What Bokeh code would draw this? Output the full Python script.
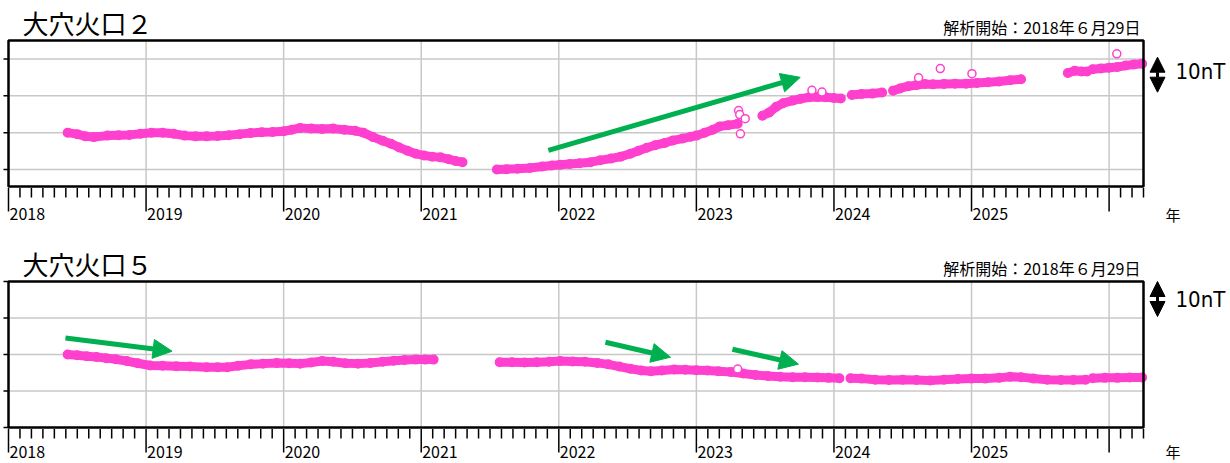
from bokeh.plotting import figure
from bokeh.layouts import column
from bokeh.models import Arrow, NormalHead, Range1d
from bokeh.embed import file_html
from bokeh.resources import INLINE
from bokeh.core.properties import value

NaN = float("nan")

# ---------------- data: 大穴火口２ (nT, relative) ----------------
c2_year = [2018.43, 2018.50, 2018.56, 2018.62, 2018.72, 2018.80, 2018.88, 2018.96, 2019.04, 2019.12,
           2019.20, 2019.28, 2019.36, 2019.44, 2019.52, 2019.60, 2019.68, 2019.76, 2019.84, 2019.92,
           2020.00, 2020.06, 2020.12, 2020.20, 2020.28, 2020.36, 2020.44, 2020.52, 2020.58, 2020.65,
           2020.72, 2020.78, 2020.84, 2020.90, 2020.96, 2021.02, 2021.08, 2021.14, 2021.20, 2021.25,
           2021.30, NaN,
           2021.55, 2021.62, 2021.70, 2021.79, 2021.88, 2021.95, 2022.01, 2022.08, 2022.15, 2022.23,
           2022.30, 2022.38, 2022.45, 2022.52, 2022.58, 2022.64, 2022.70, 2022.77, 2022.83, 2022.90,
           2022.96, 2023.00, 2023.06, 2023.12, 2023.17, 2023.23, 2023.30, NaN,
           2023.48, 2023.53, 2023.58, 2023.63, 2023.70, 2023.76, 2023.82, 2023.88, 2023.94, 2024.00,
           2024.05, NaN,
           2024.13, 2024.20, 2024.28, 2024.35, NaN,
           2024.43, 2024.48, 2024.54, 2024.60, 2024.66, 2024.72, 2024.80, 2024.88, 2024.96, 2025.04,
           2025.12, 2025.20, 2025.28, 2025.36, NaN,
           2025.70, 2025.75, 2025.80, 2025.84, NaN,
           2025.88, 2025.94, 2026.00, 2026.06, 2026.12, 2026.18, 2026.24]
c2_nT = [10.0, 9.6, 9.0, 8.8, 9.2, 9.3, 9.4, 9.7, 10.0, 10.0,
         9.7, 9.2, 9.0, 9.0, 9.1, 9.3, 9.6, 9.9, 10.1, 10.2,
         10.4, 10.8, 11.3, 11.1, 11.0, 11.1, 10.8, 10.5, 10.0, 8.8,
         7.8, 7.0, 6.0, 5.1, 4.3, 3.8, 3.5, 3.3, 2.8, 2.3,
         2.0, NaN,
         0.0, 0.1, 0.2, 0.4, 0.8, 1.1, 1.3, 1.5, 1.7, 2.0,
         2.5, 3.0, 3.5, 4.3, 5.1, 5.9, 6.6, 7.2, 7.9, 8.4,
         8.9, 9.2, 10.0, 10.8, 11.7, 12.0, 12.4, NaN,
         14.6, 15.5, 17.0, 18.0, 18.7, 19.2, 19.6, 19.7, 19.6, 19.4,
         19.3, NaN,
         20.2, 20.5, 20.6, 20.9, NaN,
         21.4, 22.0, 22.6, 22.9, 23.2, 23.1, 23.2, 23.3, 23.3, 23.5,
         23.7, 23.9, 24.2, 24.5, NaN,
         26.2, 26.8, 26.6, 26.6, NaN,
         27.2, 27.4, 27.6, 27.8, 28.2, 28.5, 28.7]
c2_out_year = [2023.307, 2023.315, 2023.355, 2023.32, 2023.84, 2023.913, 2024.615, 2024.773, 2025.003, 2026.056]
c2_out_nT = [16.0, 14.9, 13.8, 9.7, 21.5, 21.0, 24.9, 27.4, 26.0, 31.4]

# ---------------- data: 大穴火口５ (nT, relative) ----------------
c5_year = [2018.43, 2018.50, 2018.57, 2018.64, 2018.71, 2018.78, 2018.86, 2018.94, 2019.03, 2019.12,
           2019.22, 2019.32, 2019.44, 2019.52, 2019.59, 2019.67, 2019.76, 2019.85, 2019.95, 2020.04,
           2020.12, 2020.20, 2020.28, 2020.36, 2020.45, 2020.54, 2020.63, 2020.72, 2020.80, 2020.88,
           2020.96, 2021.03, 2021.09, NaN,
           2021.57, 2021.66, 2021.75, 2021.84, 2021.93, 2022.01, 2022.10, 2022.19, 2022.28, 2022.36,
           2022.44, 2022.52, 2022.60, 2022.67, 2022.75, 2022.84, 2022.92, 2023.00, 2023.08, 2023.16,
           2023.25, 2023.34, 2023.43, 2023.52, 2023.61, 2023.70, 2023.79, 2023.88, 2023.96, 2024.04, NaN,
           2024.12, 2024.20, 2024.30, 2024.40, 2024.50, 2024.60, 2024.70, 2024.80, 2024.90, 2025.00,
           2025.10, 2025.20, 2025.28, 2025.36, 2025.45, 2025.55, 2025.65, 2025.74, 2025.83, NaN,
           2025.88, 2025.97, 2026.06, 2026.15, 2026.24]
c5_nT = [10.0, 9.8, 9.5, 9.3, 9.0, 8.7, 8.2, 7.6, 7.0, 6.9,
         6.8, 6.7, 6.5, 6.5, 6.5, 6.9, 7.3, 7.5, 7.7, 7.6,
         7.5, 7.8, 8.2, 8.0, 7.6, 7.5, 7.7, 8.0, 8.3, 8.5,
         8.6, 8.6, 8.6, NaN,
         7.9, 7.9, 7.8, 7.9, 8.0, 8.2, 8.1, 8.0, 7.7, 7.3,
         6.7, 6.1, 5.6, 5.4, 5.6, 5.9, 5.8, 5.7, 5.6, 5.4,
         5.2, 4.8, 4.4, 4.1, 3.9, 3.8, 3.8, 3.7, 3.6, 3.5, NaN,
         3.5, 3.4, 3.1, 3.0, 3.1, 3.0, 2.9, 3.1, 3.3, 3.4,
         3.4, 3.6, 3.9, 3.8, 3.4, 3.1, 3.0, 3.0, 3.1, NaN,
         3.5, 3.6, 3.6, 3.7, 3.7]
c5_out_year = [2023.30]
c5_out_nT = [6.0]

# trend arrows (annotation, data units): x0, y0, x1, y1
c2_trend = [(2021.924, 5.2, 2023.755, 25.0)]
c5_trend = [(2018.414, 14.5, 2019.189, 10.9),
            (2022.339, 13.35, 2022.812, 9.26),
            (2023.262, 11.44, 2023.742, 7.36)]

year_ticks = [2018, 2019, 2020, 2021, 2022, 2023, 2024, 2025, 2026]
year_labels = ["2018", "2019", "2020", "2021", "2022", "2023", "2024", "2025"]
month_ticks = [y + m / 12 for y in range(2018, 2026) for m in range(1, 12)] + [2026 + 1 / 12, 2026 + 2 / 12, 2026.25]

X_START, X_END = 2018.0, 2026.25

MAG = "#ff40cf"
GREEN = "#00b050"
GRID = "#c8c8c8"
JP = value("Noto Sans CJK JP")
NARROW = value("Liberation Sans Narrow, DejaVu Sans Condensed, Liberation Sans")

# page layout (pixels)
W = 1230
BOX_L, BOX_R = 8, 1143
SX = (BOX_R - BOX_L) / (X_END - X_START)   # px per year


def panel(title, yr, nt, oy, on, trends, ystart, yend, yticks, height, box_top, box_bot,
          lab_y, title_y, sub_y, nt_y, arr_top, arr_bot):
    sy = (box_bot - box_top) / (yend - ystart)  # px per nT
    xr = Range1d(X_START - BOX_L / SX, X_END + (W - BOX_R) / SX)
    yr_ = Range1d(ystart - (height - box_bot) / sy, yend + box_top / sy)

    def dx(px):  # page x pixel -> data x
        return xr.start + px / SX

    def dy(py):  # figure y pixel (from top) -> data y
        return yr_.end - py / sy

    p = figure(width=W, height=height, x_range=xr, y_range=yr_, output_backend="svg",
               toolbar_location=None, min_border=0)
    p.axis.visible = False
    p.grid.visible = False
    p.outline_line_color = None
    p.background_fill_color = "white"
    p.border_fill_color = "white"

    # grid lines inside the box
    gx = year_ticks[1:]
    p.segment(x0=gx, y0=[ystart] * len(gx), x1=gx, y1=[yend] * len(gx), line_color=GRID, line_width=1.5)
    p.segment(x0=[X_START] * len(yticks), y0=yticks, x1=[X_END] * len(yticks), y1=yticks,
              line_color=GRID, line_width=1.5)

    # data
    p.line(yr, nt, line_width=9, color=MAG, line_join="round", line_cap="round")
    p.scatter(yr, nt, marker="circle", size=8.5, fill_color=MAG, line_color=MAG, line_width=1.5)
    p.scatter(oy, on, marker="circle", size=8, fill_color="white", line_color=MAG, line_width=1.5)

    # box
    p.quad(left=[X_START], right=[X_END], bottom=[ystart], top=[yend], fill_color=None,
           line_color="black", line_width=2.5)

    # x ticks (monthly minor, yearly major)
    y_in = ystart - 1.5 / sy
    p.segment(x0=month_ticks, y0=[y_in] * len(month_ticks), x1=month_ticks,
              y1=[ystart - 11 / sy] * len(month_ticks), line_color="black", line_width=1.5)
    p.segment(x0=year_ticks, y0=[y_in] * len(year_ticks), x1=year_ticks,
              y1=[ystart - 25 / sy] * len(year_ticks), line_color="black", line_width=1.5)
    # y ticks on the left
    ytk = [t for t in range(-10, 40, 10) if ystart - 0.01 <= t <= yend + 0.01]
    p.segment(x0=[X_START - 5 / SX] * len(ytk), y0=ytk, x1=[X_START] * len(ytk), y1=ytk,
              line_color="black", line_width=1.5)

    # year labels
    p.text(x=[y + 1 / SX for y in year_ticks[:len(year_labels)]], y=[dy(lab_y)] * len(year_labels),
           text=year_labels, text_font=JP, text_font_size="16px", text_align="left",
           text_baseline="middle", text_color="black")
    p.text(x=[dx(1172.5)], y=[dy(lab_y)], text=["年"], text_font=JP, text_font_size="15px",
           text_align="center", text_baseline="middle", text_color="black")

    # titles
    p.text(x=[dx(22)], y=[dy(title_y)], text=[title], text_font=JP, text_font_size="26px",
           text_align="left", text_baseline="middle", text_color="black")
    p.text(x=[dx(1140)], y=[dy(sub_y)], text=["解析開始：2018年６月29日"], text_font=JP,
           text_font_size="16px", text_align="right", text_baseline="middle", text_color="black")

    # 10 nT scale
    p.add_layout(Arrow(start=NormalHead(size=15, fill_color="black", line_color="black"),
                       end=NormalHead(size=15, fill_color="black", line_color="black"),
                       x_start=dx(1157), y_start=dy(arr_bot), x_end=dx(1157), y_end=dy(arr_top),
                       line_color="black", line_width=3))
    p.text(x=[dx(1175)], y=[dy(nt_y)], text=["10nT"], text_font=NARROW, text_font_size="22px",
           text_align="left", text_baseline="middle", text_color="black")

    # trend arrows
    for (x0, y0, x1, y1) in trends:
        p.add_layout(Arrow(end=NormalHead(size=19, fill_color=GREEN, line_color=GREEN, line_width=1),
                           x_start=x0, y_start=y0, x_end=x1, y_end=y1,
                           line_color=GREEN, line_width=5))
    return p


p1 = panel("大穴火口２", c2_year, c2_nT, c2_out_year, c2_out_nT, c2_trend,
           -4.6, 35.0, [0, 10, 20, 30], 235, 40, 186,
           lab_y=213.5, title_y=22.3, sub_y=26.5, nt_y=71, arr_top=56.7, arr_bot=91.7)
p2 = panel("大穴火口５", c5_year, c5_nT, c5_out_year, c5_out_nT, c5_trend,
           -10, 30, [0, 10, 20], 228, 46, 192,
           lab_y=216, title_y=27.5, sub_y=32.5, nt_y=63.5, arr_top=46, arr_bot=81)

layout = column(p1, p2, spacing=0)
open("out.html", "w").write(file_html(layout, INLINE))
